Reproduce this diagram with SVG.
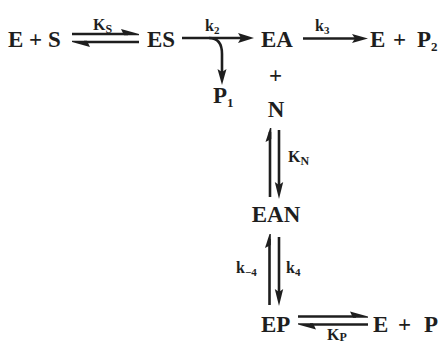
<svg xmlns="http://www.w3.org/2000/svg" width="446" height="345" viewBox="0 0 446 345">
  <style>
    .t { font-family: "Liberation Serif", "Times New Roman", serif; font-weight: bold; fill: #1e1e1e; }
    .m { font-size: 23px; }
    .l { font-size: 16px; }
    .ln { stroke: #1e1e1e; stroke-width: 2.6; fill: none; }
    .hd { fill: #1e1e1e; stroke: none; }
  </style>
  <rect width="446" height="345" fill="#ffffff"/>

  <!-- species -->
  <g id="node-ES-free"><text class="t m" y="47"><tspan x="8">E</tspan><tspan x="29">+</tspan><tspan x="48">S</tspan></text></g>
  <g id="node-ES"><text class="t m" x="147" y="47">ES</text></g>
  <g id="node-P1"><text class="t m" x="213" y="103">P<tspan font-size="13" dy="4">1</tspan></text></g>
  <g id="node-EA"><text class="t m" x="261" y="47">EA</text></g>
  <g id="node-EP2"><text class="t m" y="47"><tspan x="370">E</tspan><tspan x="393">+</tspan><tspan x="417">P</tspan><tspan font-size="13" dy="4">2</tspan></text></g>
  <g id="node-plus"><text class="t m" x="275.5" y="83" text-anchor="middle">+</text></g>
  <g id="node-N"><text class="t m" x="276" y="117" text-anchor="middle">N</text></g>
  <g id="node-EAN"><text class="t m" x="276" y="222" text-anchor="middle">EAN</text></g>
  <g id="node-EP"><text class="t m" x="261" y="332">EP</text></g>
  <g id="node-EP-free"><text class="t m" y="332"><tspan x="373">E</tspan><tspan x="398">+</tspan><tspan x="424">P</tspan></text></g>

  <!-- connectors -->
  <g id="connectors">
    <!-- E + S <=> ES -->
    <line class="ln" x1="72" y1="34" x2="128" y2="34"/>
    <path class="hd" d="M139,34 L121,29 L124,35.3 L139,35.3 Z"/>
    <line class="ln" x1="84" y1="42" x2="139" y2="42"/>
    <path class="hd" d="M72,42 L90,47 L87,40.7 L72,40.7 Z"/>
    <text class="t l" x="93" y="30">K<tspan font-size="12" dy="3">S</tspan></text>

    <!-- ES -> EA with P1 branch -->
    <line class="ln" x1="182" y1="38" x2="242" y2="38"/>
    <path class="hd" d="M254,38 L238,33 L241,38 L238,43 Z"/>
    <path class="ln" d="M209,38 Q222,38 222,54 L222,72"/>
    <path class="hd" d="M222,85 L217.5,69 L222,72 L226.5,69 Z"/>
    <text class="t l" x="205" y="31">k<tspan font-size="11" dy="3">2</tspan></text>

    <!-- EA -> E + P2 -->
    <line class="ln" x1="303" y1="38.5" x2="356" y2="38.5"/>
    <path class="hd" d="M368,38.5 L352,34 L355,38.5 L352,43 Z"/>
    <text class="t l" x="315" y="31">k<tspan font-size="11" dy="3">3</tspan></text>

    <!-- N <=> EAN -->
    <line class="ln" x1="270" y1="132" x2="270" y2="197"/>
    <path class="hd" d="M270,128 L265.5,142 L271.3,139 L271.3,128 Z"/>
    <line class="ln" x1="279" y1="130" x2="279" y2="186"/>
    <path class="hd" d="M279,199 L274.8,182 L279,185 L283.2,182 Z"/>
    <text class="t l" x="288" y="162">K<tspan font-size="12" dy="3">N</tspan></text>

    <!-- EAN <=> EP -->
    <line class="ln" x1="269.5" y1="239" x2="269.5" y2="305"/>
    <path class="hd" d="M269.5,234 L265,248 L270.8,245 L270.8,234 Z"/>
    <line class="ln" x1="279" y1="237" x2="279" y2="292"/>
    <path class="hd" d="M279,306 L274.8,289 L279,292 L283.2,289 Z"/>
    <text class="t l" x="236" y="273">k<tspan font-size="11" dy="3">−4</tspan></text>
    <text class="t l" x="286" y="273">k<tspan font-size="11" dy="3">4</tspan></text>

    <!-- EP <=> E + P -->
    <line class="ln" x1="298" y1="316.5" x2="356" y2="316.5"/>
    <path class="hd" d="M368,316.5 L350,311.5 L353,317.8 L368,317.8 Z"/>
    <line class="ln" x1="310" y1="324.5" x2="368" y2="324.5"/>
    <path class="hd" d="M298,324.5 L316,329.5 L313,323.2 L298,323.2 Z"/>
    <text class="t l" x="327" y="340">K<tspan font-size="12" dy="1">P</tspan></text>
  </g>
</svg>
